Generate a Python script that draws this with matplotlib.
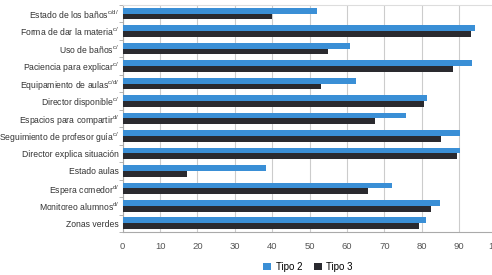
import matplotlib
matplotlib.use("Agg")
import matplotlib.pyplot as plt
import numpy as np

plt.rcParams['font.family'] = ['Liberation Sans Narrow', 'Liberation Sans', 'DejaVu Sans']

categories = [
    r'Estado de los baños$^{\mathregular{c/d/}}$',
    r'Forma de dar la materia$^{\mathregular{c/}}$',
    r'Uso de baños$^{\mathregular{c/}}$',
    r'Paciencia para explicar$^{\mathregular{c/}}$',
    r'Equipamiento de aulas$^{\mathregular{c/d/}}$',
    r'Director disponible$^{\mathregular{c/}}$',
    r'Espacios para compartir$^{\mathregular{d/}}$',
    r'Seguimiento de profesor guía$^{\mathregular{c/}}$',
    'Director explica situación',
    'Estado aulas',
    r'Espera comedor$^{\mathregular{d/}}$',
    r'Monitoreo alumnos$^{\mathregular{d/}}$',
    'Zonas verdes',
]
tipo2 = [51.9, 94.2, 60.9, 93.5, 62.5, 81.4, 75.7, 90.3, 90.1, 38.2, 71.9, 84.9, 81.0]
tipo3 = [39.9, 93.1, 54.8, 88.4, 53.1, 80.7, 67.5, 85.1, 89.4, 17.1, 65.5, 82.4, 79.3]
xticks = [0, 10, 20, 30, 40, 50, 60, 70, 80, 90, 100]

blue = '#3a8fd6'
dark = '#2a2a2f'

fig = plt.figure(figsize=(4.92, 2.75), dpi=100)
ax = fig.add_axes([0.2494, 0.1564, 0.760, 0.8254])

y = np.arange(len(categories))
h = 0.33
ax.barh(y - h / 2, tipo2, height=h, color=blue, label='Tipo 2', zorder=3)
ax.barh(y + h / 2, tipo3, height=h, color=dark, label='Tipo 3', zorder=3)

ax.set_xlim(0, 100)
ax.set_ylim(len(categories) - 0.5, -0.5)
ax.set_xticks(xticks)
ax.set_xticklabels([str(t) for t in xticks], fontsize=6.8, color='#555555')
ax.set_yticks(y)
ax.set_yticklabels(categories, fontsize=6.2, color='#333333')
ax.set_yticks(np.arange(len(categories) + 1) - 0.5, minor=True)
ax.tick_params(axis='y', which='major', length=0, pad=2.5)
ax.tick_params(axis='y', which='minor', length=3, color='#aaaaaa')
ax.tick_params(axis='x', length=0, pad=7)

ax.grid(axis='x', color='#cccccc', linewidth=0.8, zorder=0)
for s in ['left', 'bottom']:
    ax.spines[s].set_color('#aaaaaa')
ax.spines['top'].set_color('#dddddd')
ax.spines['right'].set_visible(False)

fig.legend(loc='center', bbox_to_anchor=(0.626, 0.03), ncol=2, frameon=False,
           fontsize=7, handlelength=0.8, handleheight=0.8, columnspacing=1.2,
           handletextpad=0.5)

fig.savefig('out.png', dpi=100)
